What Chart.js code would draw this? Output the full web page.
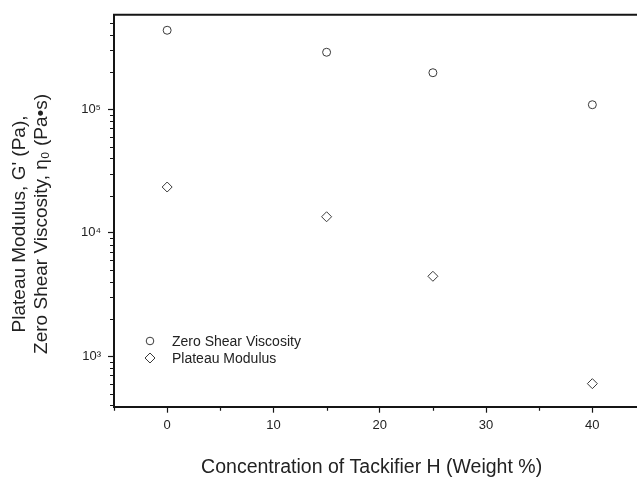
<!DOCTYPE html>
<html>
<head>
<meta charset="utf-8">
<script src="https://cdn.jsdelivr.net/npm/chart.js@4/dist/chart.umd.min.js"></script>
<style>
  html, body { margin: 0; padding: 0; overflow: hidden; background: #fff; }
  canvas { display: block; }
</style>
</head>
<body>
<canvas id="chart" width="650" height="481"></canvas>
<script>
// values
const concentrations = [0, 15, 25, 40];
const zeroShearViscosity = [437000, 290000, 198000, 109000];
const plateauModulus = [23500, 13500, 4450, 601];
const seriesNames = ['Zero Shear Viscosity', 'Plateau Modulus'];

const xTicks = [0, 10, 20, 30, 40];
const xMinorTicks = [-5, 5, 15, 25, 35, 45];
const yTicks = [1000, 10000, 100000];
const yTickLabels = ['10³', '10⁴', '10⁵'];

// trailing spaces nudge the centred titles to where the reference has them
const xTitle = 'Concentration of Tackifier H (Weight %)   ';
const yTitle = ["Plateau Modulus, G' (Pa),     ", 'Zero Shear Viscosity, η₀ (Pa•s)     '];

const ink = '#151515';
const markColor = '#3a3a3a';
const fontFamily = '"Liberation Sans", Arial, sans-serif';

const toPoints = (xs, ys) => xs.map((x, i) => ({ x: x, y: ys[i] }));

// minor ticks on the log axis (2..9 x 10^n)
function logMinor(min, max) {
    const out = [];
    for (let e = 2; e <= 5; e++) {
        for (let m = 2; m <= 9; m++) {
            const v = m * Math.pow(10, e);
            if (v >= min && v <= max) out.push(v);
        }
    }
    return out;
}

const frameAndLegend = {
    id: 'frameAndLegend',
    afterDraw(chart) {
        const ctx = chart.ctx;
        const area = chart.chartArea;
        const xs = chart.scales.x;
        const ys = chart.scales.y;
        ctx.save();
        ctx.strokeStyle = ink;

        // top frame line
        ctx.lineWidth = 2;
        ctx.beginPath();
        ctx.moveTo(area.left - 1, area.top);
        ctx.lineTo(area.right, area.top);
        ctx.stroke();

        // minor ticks
        ctx.lineWidth = 1.2;
        ctx.beginPath();
        xMinorTicks.forEach(v => {
            const px = Math.round(xs.getPixelForValue(v)) + 0.5;
            ctx.moveTo(px, area.bottom);
            ctx.lineTo(px, area.bottom + 4);
        });
        logMinor(ys.min, ys.max).forEach(v => {
            const py = Math.round(ys.getPixelForValue(v)) + 0.5;
            ctx.moveTo(area.left, py);
            ctx.lineTo(area.left - 4, py);
        });
        ctx.stroke();

        // legend inside the plot
        const rows = [
            { y: 341, style: 'circle' },
            { y: 358, style: 'rectRot' }
        ];
        ctx.font = '14px ' + fontFamily;
        ctx.textBaseline = 'middle';
        ctx.textAlign = 'left';
        rows.forEach((row, i) => {
            const cx = 150;
            ctx.strokeStyle = markColor;
            ctx.fillStyle = '#fff';
            ctx.lineWidth = 1;
            ctx.beginPath();
            if (row.style === 'circle') {
                ctx.arc(cx, row.y, 3.8, 0, Math.PI * 2);
            } else {
                ctx.moveTo(cx, row.y - 5);
                ctx.lineTo(cx + 5, row.y);
                ctx.lineTo(cx, row.y + 5);
                ctx.lineTo(cx - 5, row.y);
                ctx.closePath();
            }
            ctx.fill();
            ctx.stroke();
            ctx.fillStyle = '#222';
            ctx.fillText(seriesNames[i], 172, row.y + 1);
        });
        ctx.restore();
    }
};

const ctx = document.getElementById('chart').getContext('2d');

new Chart(ctx, {
    type: 'scatter',
    data: {
        datasets: [{
            label: seriesNames[0],
            data: toPoints(concentrations, zeroShearViscosity),
            pointStyle: 'circle',
            pointRadius: 4,
            borderColor: markColor,
            backgroundColor: '#fff',
            borderWidth: 1
        }, {
            label: seriesNames[1],
            data: toPoints(concentrations, plateauModulus),
            pointStyle: 'rectRot',
            pointRadius: 5,
            borderColor: markColor,
            backgroundColor: '#fff',
            borderWidth: 1
        }]
    },
    options: {
        responsive: false,
        animation: false,
        layout: {
            autoPadding: false,
            padding: { left: 0, top: 10, right: 4.5, bottom: 0 }
        },
        plugins: {
            legend: { display: false },
            tooltip: { enabled: false }
        },
        scales: {
            x: {
                type: 'linear',
                min: -5,
                max: 45,
                afterFit: s => { s.height = 74.3; },
                afterBuildTicks: s => { s.ticks = xTicks.map(v => ({ value: v })); },
                border: { display: true, color: ink, width: 2 },
                grid: { drawOnChartArea: false, drawTicks: true, tickLength: 6, tickColor: ink, tickWidth: 1.2 },
                ticks: {
                    autoSkip: false,
                    maxRotation: 0,
                    padding: 5,
                    color: '#222',
                    font: { family: fontFamily, size: 13 }
                },
                title: {
                    display: true,
                    text: xTitle,
                    color: '#222',
                    font: { family: fontFamily, size: 19.5 },
                    padding: { top: 0, bottom: 2 }
                }
            },
            y: {
                type: 'logarithmic',
                min: 391,
                max: 583000,
                afterFit: s => { s.width = 114; },
                afterBuildTicks: s => { s.ticks = yTicks.map(v => ({ value: v })); },
                border: { display: true, color: ink, width: 2 },
                grid: { drawOnChartArea: false, drawTicks: true, tickLength: 6, tickColor: ink, tickWidth: 1.2 },
                ticks: {
                    autoSkip: false,
                    padding: 7,
                    color: '#222',
                    font: { family: fontFamily, size: 13 },
                    callback: v => {
                        const i = yTicks.indexOf(v);
                        return i >= 0 ? yTickLabels[i] : '';
                    }
                },
                title: {
                    display: true,
                    text: yTitle,
                    color: '#222',
                    font: { family: fontFamily, size: 19, lineHeight: 1.16 },
                    padding: { top: 9, bottom: 0 }
                }
            }
        }
    },
    plugins: [frameAndLegend]
});
</script>
</body>
</html>
